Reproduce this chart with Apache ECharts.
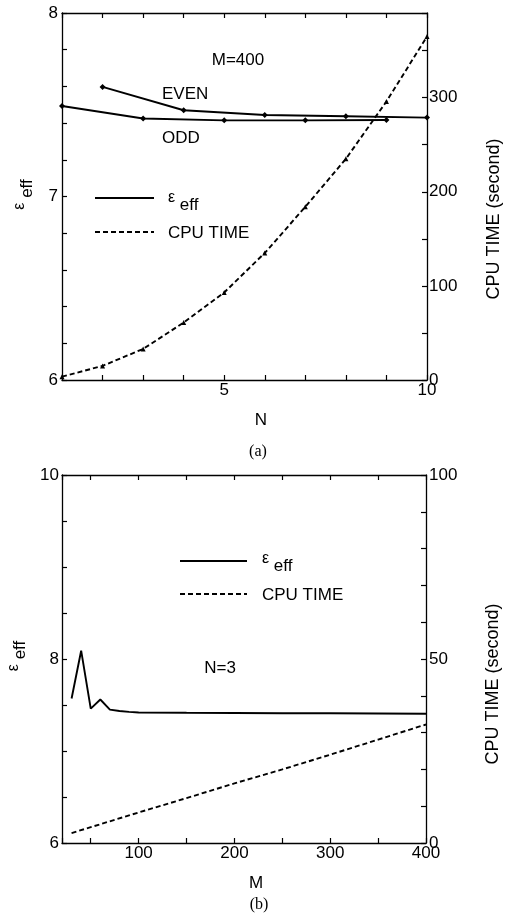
<!DOCTYPE html>
<html><head><meta charset="utf-8">
<script src="https://cdn.jsdelivr.net/npm/echarts@6/dist/echarts.min.js"></script>
<style>html,body{margin:0;padding:0;background:#fff}#c{width:508px;height:921px}</style>
</head><body><div id="c"></div>
<script>
// ---- panel (a): M=400 ----
const evenN = [2, 4, 6, 8, 10];
const evenEps = [7.597, 7.47, 7.444, 7.437, 7.43];
const oddN = [1, 3, 5, 7, 9];
const oddEps = [7.493, 7.425, 7.415, 7.415, 7.417];
const cpuN = [1, 2, 3, 4, 5, 6, 7, 8, 9, 10];
const cpuA = [3.5, 15, 33, 61, 93, 135, 184, 235, 296, 365];
const nLabels = [5, 10];
const epsLabelsA = [6, 7, 8];
const cpuLabelsA = [0, 100, 200, 300];
// ---- panel (b): N=3 ----
const mEps = [30, 40, 50, 60, 70, 80, 90, 100, 150, 200, 250, 300, 350, 400];
const epsB = [7.57, 8.09, 7.46, 7.56, 7.45, 7.435, 7.425, 7.418, 7.415, 7.413, 7.41, 7.41, 7.408, 7.405];
const mCpu = [30, 50, 100, 150, 200, 250, 300, 350, 400];
const cpuB = [2.7, 4.3, 8.3, 12.2, 16.2, 20.0, 24.0, 28.1, 32.2];
const mLabels = [100, 200, 300, 400];
const epsLabelsB = [6, 8, 10];
const cpuLabelsB = [0, 50, 100];

const FONT = 'Liberation Sans, Arial, Helvetica, sans-serif';
const zip = (a, b) => a.map((v, i) => [v, b[i]]);
const near = (arr, v) => arr.some(t => Math.abs(t - v) < 1e-6);
const lblFmt = arr => (v => near(arr, v) ? String(Math.round(v)) : '');
const axLine = {show: true, onZero: false, lineStyle: {color: '#000', width: 1.3}};
const tick = {show: true, inside: true, length: 5, lineStyle: {color: '#000', width: 1.2}};
const lbl = (arr, margin) => ({show: true, color: '#000', fontSize: 17, fontFamily: FONT, margin: margin, formatter: lblFmt(arr), showMinLabel: true, showMaxLabel: true});
const epsName = '{e|ε}{f| eff}';
const epsRich = {e: {fontSize: 16, fontFamily: FONT, color: '#000', padding: [0, 0, 8, 0]}, f: {fontSize: 17, fontFamily: FONT, color: '#000', padding: [6, 0, 0, 0]}};

const solid = {color: '#000', width: 1.9};
const dashed = {color: '#000', width: 1.9, type: [5, 3]};

const option = {
  animation: false,
  backgroundColor: '#fff',
  textStyle: {fontFamily: FONT, color: '#000'},
  grid: [
    {left: 62, top: 13, width: 365, height: 367, containLabel: false, outerBoundsMode: 'none'},
    {left: 62, top: 475, width: 364, height: 368, containLabel: false, outerBoundsMode: 'none'}
  ],
  xAxis: [
    {type: 'value', gridIndex: 0, position: 'bottom', min: 1, max: 10, interval: 1,
     axisLine: axLine, axisTick: tick, splitLine: {show: false}, axisLabel: lbl(nLabels, 2),
     name: 'N', nameLocation: 'middle', nameGap: 32,
     nameTextStyle: {fontSize: 17, color: '#000', fontFamily: FONT, padding: [0, 0, 0, 33]}},
    {type: 'value', gridIndex: 0, position: 'top', min: 1, max: 10, interval: 1,
     axisLine: axLine, axisTick: tick, splitLine: {show: false}, axisLabel: {show: false}},
    {type: 'value', gridIndex: 1, position: 'bottom', min: 20, max: 400, splitNumber: 8, minInterval: 50, maxInterval: 50,
     axisLine: axLine, axisTick: tick, splitLine: {show: false}, axisLabel: lbl(mLabels, 2),
     name: 'M', nameLocation: 'middle', nameGap: 32,
     nameTextStyle: {fontSize: 17, color: '#000', fontFamily: FONT, padding: [0, 0, 0, 24]}},
    {type: 'value', gridIndex: 1, position: 'top', min: 20, max: 400, splitNumber: 8, minInterval: 50, maxInterval: 50,
     axisLine: axLine, axisTick: tick, splitLine: {show: false}, axisLabel: {show: false}}
  ],
  yAxis: [
    {type: 'value', gridIndex: 0, position: 'left', min: 6, max: 8, interval: 0.2,
     axisLine: axLine, axisTick: tick, splitLine: {show: false},
     axisLabel: lbl(epsLabelsA, 4),
     name: epsName, nameLocation: 'middle', nameGap: 26,
     nameTextStyle: {rich: epsRich, padding: [0, 0, 0, 4]}},
    {type: 'value', gridIndex: 0, position: 'right', min: 0, max: 390, interval: 50,
     axisLine: axLine, axisTick: tick, splitLine: {show: false},
     axisLabel: lbl(cpuLabelsA, 2),
     name: 'CPU TIME (second)', nameLocation: 'middle', nameGap: 58,
     nameTextStyle: {fontSize: 18, color: '#000', fontFamily: FONT, padding: [0, 45, 0, 0]}},
    {type: 'value', gridIndex: 1, position: 'left', min: 6, max: 10, interval: 0.5,
     axisLine: axLine, axisTick: tick, splitLine: {show: false},
     axisLabel: lbl(epsLabelsB, 3),
     name: epsName, nameLocation: 'middle', nameGap: 26,
     nameTextStyle: {rich: epsRich, padding: [0, 0, 0, 6]}},
    {type: 'value', gridIndex: 1, position: 'right', min: 0, max: 100, interval: 10,
     axisLine: axLine, axisTick: tick, splitLine: {show: false},
     axisLabel: lbl(cpuLabelsB, 3),
     name: 'CPU TIME (second)', nameLocation: 'middle', nameGap: 58,
     nameTextStyle: {fontSize: 18, color: '#000', fontFamily: FONT, padding: [0, 50, 0, 0]}}
  ],
  series: [
    {type: 'line', name: 'EVEN', xAxisIndex: 0, yAxisIndex: 0, data: zip(evenN, evenEps),
     symbol: 'diamond', symbolSize: 6, lineStyle: solid, itemStyle: {color: '#000'}, z: 3},
    {type: 'line', name: 'ODD', xAxisIndex: 0, yAxisIndex: 0, data: zip(oddN, oddEps),
     symbol: 'diamond', symbolSize: 6, lineStyle: solid, itemStyle: {color: '#000'}, z: 3},
    {type: 'line', name: 'CPU TIME', xAxisIndex: 0, yAxisIndex: 1, data: zip(cpuN, cpuA),
     symbol: 'triangle', symbolSize: 5, lineStyle: dashed, itemStyle: {color: '#000'}},
    {type: 'line', name: 'ε eff', xAxisIndex: 2, yAxisIndex: 2, data: zip(mEps, epsB),
     symbol: 'none', lineStyle: solid},
    {type: 'line', name: 'CPU TIME (b)', xAxisIndex: 2, yAxisIndex: 3, data: zip(mCpu, cpuB),
     symbol: 'none', lineStyle: dashed}
  ],
  graphic: [
    // panel (a) annotations
    {type: 'text', x: 238, y: 60, style: {text: 'M=400', font: '17px ' + FONT, fill: '#000', align: 'center', verticalAlign: 'middle'}},
    {type: 'text', x: 162, y: 94, style: {text: 'EVEN', font: '17px ' + FONT, fill: '#000', align: 'left', verticalAlign: 'middle'}},
    {type: 'text', x: 162, y: 138, style: {text: 'ODD', font: '17px ' + FONT, fill: '#000', align: 'left', verticalAlign: 'middle'}},
    {type: 'line', shape: {x1: 95, y1: 198, x2: 154, y2: 198}, style: {stroke: '#000', lineWidth: 1.9}},
    {type: 'text', x: 168, y: 202, style: {text: epsName, rich: epsRich, fill: '#000', align: 'left', verticalAlign: 'middle'}},
    {type: 'line', shape: {x1: 95, y1: 232, x2: 154, y2: 232}, style: {stroke: '#000', lineWidth: 1.9, lineDash: [5, 3]}},
    {type: 'text', x: 168, y: 233, style: {text: 'CPU TIME', font: '17px ' + FONT, fill: '#000', align: 'left', verticalAlign: 'middle'}},
    {type: 'text', x: 258, y: 452, style: {text: '(a)', font: '16px Liberation Serif, Times New Roman, serif', fill: '#000', align: 'center', verticalAlign: 'middle'}},
    // panel (b) annotations
    {type: 'line', shape: {x1: 180, y1: 561, x2: 247, y2: 561}, style: {stroke: '#000', lineWidth: 1.9}},
    {type: 'text', x: 262, y: 563, style: {text: epsName, rich: epsRich, fill: '#000', align: 'left', verticalAlign: 'middle'}},
    {type: 'line', shape: {x1: 180, y1: 594, x2: 247, y2: 594}, style: {stroke: '#000', lineWidth: 1.9, lineDash: [5, 3]}},
    {type: 'text', x: 262, y: 595, style: {text: 'CPU TIME', font: '17px ' + FONT, fill: '#000', align: 'left', verticalAlign: 'middle'}},
    {type: 'text', x: 220, y: 668, style: {text: 'N=3', font: '17px ' + FONT, fill: '#000', align: 'center', verticalAlign: 'middle'}},
    {type: 'text', x: 259, y: 905, style: {text: '(b)', font: '16px Liberation Serif, Times New Roman, serif', fill: '#000', align: 'center', verticalAlign: 'middle'}}
  ]
};
const chart = echarts.init(document.getElementById('c'), null, {renderer: 'canvas'});
chart.setOption(option);
</script>
</body></html>
